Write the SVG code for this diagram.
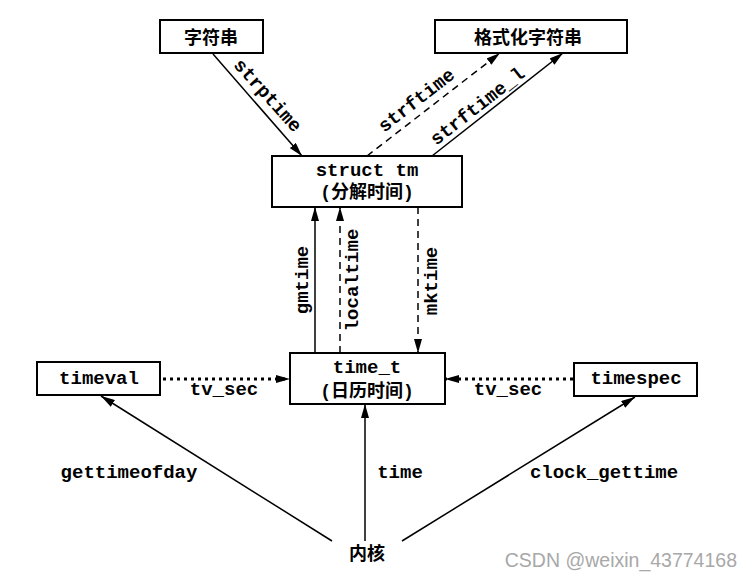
<svg xmlns="http://www.w3.org/2000/svg" width="753" height="579" viewBox="0 0 753 579">
<style>
.box{fill:#fff;stroke:#000;stroke-width:2}
.t{font-family:"Liberation Mono","Noto Sans CJK SC",monospace;font-weight:bold;font-size:19px;fill:#000}
.c{font-family:"Liberation Mono","Noto Sans CJK SC",monospace;font-weight:bold;font-size:18px;fill:#000}
.ln{fill:none;stroke:#000;stroke-width:1.5}
.dash{stroke-dasharray:7 5}
.dot{stroke-width:3;stroke-dasharray:3 4}
.wm{font-family:"Liberation Sans",Arial,sans-serif;font-size:19.5px;fill:#a8a8a8}
</style>
<defs>
<marker id="arr" viewBox="0 0 14 8" refX="14" refY="4" markerWidth="14" markerHeight="8" markerUnits="userSpaceOnUse" orient="auto">
<path d="M0,0 L14,4 L0,8 z" fill="#000"/>
</marker>
</defs>
<rect width="753" height="579" fill="#fff"/>
<g id="connectors">
<line class="ln" x1="213" y1="54" x2="302" y2="156" marker-end="url(#arr)"/>
<line class="ln dash" x1="367" y1="156" x2="500" y2="53" marker-end="url(#arr)"/>
<line class="ln" x1="432" y1="156" x2="563" y2="53" marker-end="url(#arr)"/>
<line class="ln" x1="315" y1="353" x2="315" y2="207" marker-end="url(#arr)"/>
<line class="ln dash" x1="340" y1="353" x2="340" y2="207" marker-end="url(#arr)"/>
<line class="ln dash" x1="418" y1="207" x2="418" y2="353" marker-end="url(#arr)"/>
<line class="ln dot" x1="163" y1="379" x2="290" y2="379" marker-end="url(#arr)"/>
<line class="ln dot" x1="573" y1="379" x2="445" y2="379" marker-end="url(#arr)"/>
<line class="ln" x1="332" y1="541" x2="101" y2="396" marker-end="url(#arr)"/>
<line class="ln" x1="365" y1="541" x2="365" y2="404" marker-end="url(#arr)"/>
<line class="ln" x1="402" y1="541" x2="635" y2="397" marker-end="url(#arr)"/>
<text class="t" text-anchor="middle" transform="translate(267,96) rotate(48)" y="5">strptime</text>
<text class="t" text-anchor="middle" transform="translate(417,101) rotate(-38)" y="5">strftime</text>
<text class="t" text-anchor="middle" transform="translate(478,107) rotate(-38)" y="5">strftime_l</text>
<text class="t" text-anchor="middle" transform="translate(308,280) rotate(-90)">gmtime</text>
<text class="t" text-anchor="middle" transform="translate(358,280) rotate(-90)">localtime</text>
<text class="t" text-anchor="middle" transform="translate(437,281) rotate(-90)">mktime</text>
<text class="t" text-anchor="middle" x="224" y="395">tv_sec</text>
<text class="t" text-anchor="middle" x="508" y="395">tv_sec</text>
<text class="t" text-anchor="middle" x="129" y="478">gettimeofday</text>
<text class="t" text-anchor="middle" x="400" y="478">time</text>
<text class="t" text-anchor="middle" x="604" y="478">clock_gettime</text>
</g>
<g id="node-string">
<rect class="box" x="160" y="20" width="103" height="33"/>
<text class="c" text-anchor="middle" x="211" y="44">字符串</text>
</g>
<g id="node-fmtstring">
<rect class="box" x="435" y="20" width="192" height="33"/>
<text class="c" text-anchor="middle" x="528" y="44">格式化字符串</text>
</g>
<g id="node-tm">
<rect class="box" x="272" y="156" width="190" height="51"/>
<text class="t" text-anchor="middle" x="367" y="176">struct tm</text>
<text class="c" text-anchor="middle" x="367" y="198">(分解时间)</text>
</g>
<g id="node-time_t">
<rect class="box" x="290" y="353" width="155" height="51"/>
<text class="t" text-anchor="middle" x="367" y="373">time_t</text>
<text class="c" text-anchor="middle" x="367" y="397">(日历时间)</text>
</g>
<g id="node-timeval">
<rect class="box" x="37" y="362" width="123" height="33"/>
<text class="t" text-anchor="middle" x="99" y="384">timeval</text>
</g>
<g id="node-timespec">
<rect class="box" x="574" y="363" width="123" height="33"/>
<text class="t" text-anchor="middle" x="636" y="384">timespec</text>
</g>
<g id="node-kernel">
<text class="c" text-anchor="middle" x="367" y="560">内核</text>
</g>
<text class="wm" text-anchor="end" x="737" y="567">CSDN @weixin_43774168</text>
</svg>
